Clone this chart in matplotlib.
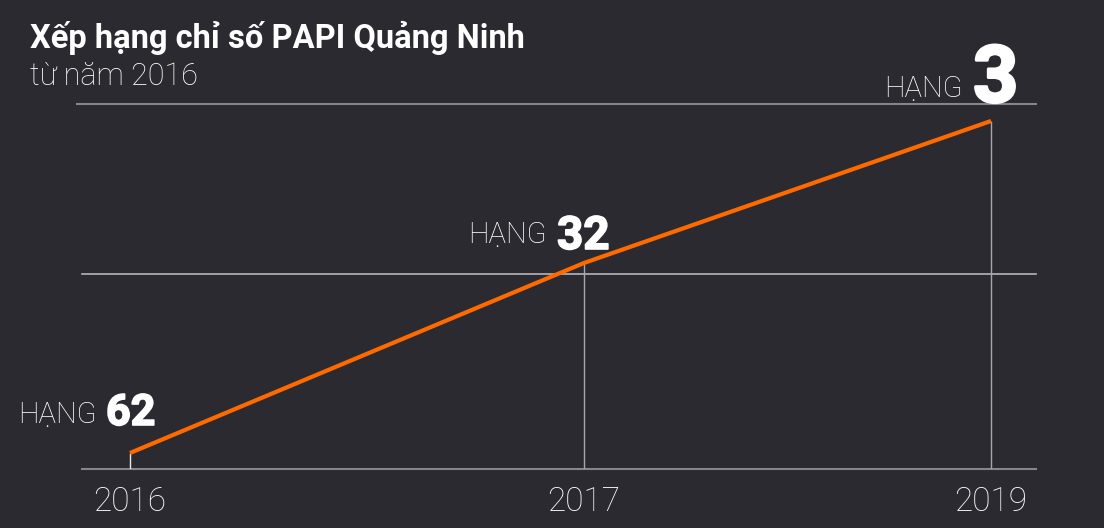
import numpy as np
import matplotlib
matplotlib.use("Agg")
import matplotlib.pyplot as plt
import matplotlib.patheffects as pe

# ---- data ----
years = ["2016", "2017", "2019"]
ranks = [62, 32, 3]
rank_labels = ["62", "32", "3"]
title = "Xếp hạng chỉ số PAPI Quảng Ninh"
subtitle = "từ năm 2016"
prefix = "HẠNG"

# ---- layout / style ----
BG = "#2b2a30"
ORANGE = "#ff6a00"
xpos = [0.0, 1.0, 1.8965]          # horizontal slots of the three years
node_ranks = np.array([-20.0, 3.0, 32.0, 62.0, 90.0])
node_h = np.array([460.6, 348.0, 206.0, 16.0, -161.3])   # visual height nodes

def fwd(r):
    return np.interp(r, node_ranks, -node_h)

def inv(v):
    return np.interp(v, -node_h, node_ranks)

plt.rcParams['font.family'] = ['Roboto', 'DejaVu Sans']

fig = plt.figure(figsize=(11.04, 5.28), dpi=100, facecolor=BG)
ax = fig.add_axes([77 / 1104, 59 / 528, (1036 - 77) / 1104, 365 / 528])
ax.set_facecolor(BG)
ax.set_yscale('function', functions=(fwd, inv))
ax.set_ylim(64.53, -0.47)
ax.set_xlim(-53 / 454, (1036 - 130) / 454)

for s in ax.spines.values():
    s.set_visible(False)
ax.set_yticks([])
ax.set_xticks(xpos)
ax.set_xticklabels(years)
ax.tick_params(axis='x', length=0, pad=12, labelsize=24, labelcolor='white')
for t in ax.get_xticklabels():
    t.set_fontweight('light')

# horizontal rules
ax.plot([5 / 959, 1], [0, 0], transform=ax.transAxes, color="#85858a", lw=1.5, clip_on=False)
ax.plot([5 / 959, 1], [195 / 365, 195 / 365], transform=ax.transAxes, color="#b4b4b8", lw=1.2, clip_on=False)
ax.plot([0, 1], [1, 1], transform=ax.transAxes, color="#85858a", lw=1.5, clip_on=False)

# vertical drop lines
ax.vlines(xpos, 64.53, ranks, colors=["#e8e8e8", "#a8a8ac", "#a8a8ac"], lw=1.0, zorder=2)

# main line
ax.plot(xpos, ranks, color=ORANGE, lw=3, solid_capstyle='butt', zorder=3)

# labels
pre_off = [(-33, 30), (-37, 20), (-28, 24)]
num_off = [(-24, 28), (-27, 14), (-18, 19)]
num_size = [31, 33, 57]
num_stroke = [1.2, 1.2, 2.0]
for x, r, lab, po, no, ns, sw in zip(xpos, ranks, rank_labels, pre_off, num_off, num_size, num_stroke):
    ax.annotate(prefix, (x, r), xytext=po, textcoords='offset pixels',
                ha='right', va='baseline', color='white', fontsize=21,
                fontweight='light', annotation_clip=False)
    ax.annotate(lab, (x, r), xytext=no, textcoords='offset pixels',
                ha='left', va='baseline', color='white', fontsize=ns,
                fontweight='bold', annotation_clip=False,
                path_effects=[pe.withStroke(linewidth=sw, foreground='white')])

fig.text(30 / 1104, 1 - 48 / 528, title, color='white', fontsize=23.5,
         fontweight='bold', ha='left', va='baseline')
fig.text(30 / 1104, 1 - 85 / 528, subtitle, color='white', fontsize=22,
         fontweight='light', ha='left', va='baseline')

fig.savefig("out.png", dpi=100, facecolor=BG)
